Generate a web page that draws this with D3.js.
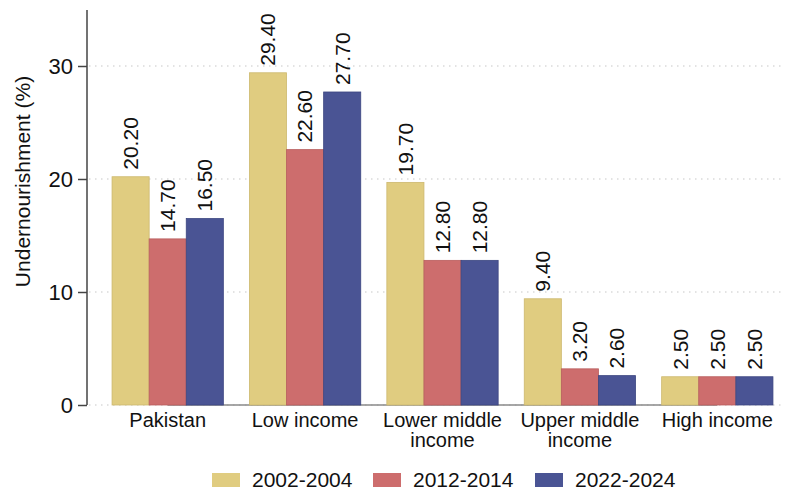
<!DOCTYPE html>
<html>
<head>
<meta charset="utf-8">
<script src="https://cdn.jsdelivr.net/npm/d3@7"></script>
<style>
  html, body { margin: 0; padding: 0; background: #fff; }
  svg { display: block; font-family: "Liberation Sans", Arial, Helvetica, sans-serif; }
</style>
</head>
<body>
<div id="chart"></div>
<script>
// ---- data ----
const categories = ["Pakistan", "Low income", "Lower middle income", "Upper middle income", "High income"];
const categoryLines = [["Pakistan"], ["Low income"], ["Lower middle", "income"], ["Upper middle", "income"], ["High income"]];
const seriesNames = ["2002-2004", "2012-2014", "2022-2024"];
const values2002 = [20.2, 29.4, 19.7, 9.4, 2.5];
const values2012 = [14.7, 22.6, 12.8, 3.2, 2.5];
const values2022 = [16.5, 27.7, 12.8, 2.6, 2.5];
const yTicks = [0, 10, 20, 30];
const colors = ["#E0CC80", "#CD6D6D", "#4A5494"];
const strokeColors = ["#CDB86E", "#B85E5E", "#3C4680"];

const seriesValues = [values2002, values2012, values2022];

const W = 786, H = 492;
const margin = { left: 87, top: 10, bottom: 87 };
const plotBottom = 405;

const svg = d3.select("#chart").append("svg").attr("width", W).attr("height", H);

const y = d3.scaleLinear().domain([0, 35]).range([plotBottom, plotBottom - 35 * 11.3]);
const x0 = d3.scaleBand().domain(categories).range([99, 786]).paddingInner(0.19).paddingOuter(0.095);
const x1 = d3.scaleBand().domain(seriesNames).range([0, x0.bandwidth()]);

// gridlines
const grid = svg.append("g");
grid.selectAll("line").data(yTicks).join("line")
  .attr("x1", margin.left + 2).attr("x2", 783)
  .attr("y1", d => y(d)).attr("y2", d => y(d))
  .attr("stroke", "#c8c8c8").attr("stroke-width", 1.2)
  .attr("stroke-dasharray", "1.5,4.5");

// x baseline (between first and last category centres)
svg.append("line")
  .attr("x1", x0(categories[0]) + x0.bandwidth() / 2)
  .attr("x2", x0(categories[categories.length - 1]) + x0.bandwidth() / 2)
  .attr("y1", plotBottom).attr("y2", plotBottom)
  .attr("stroke", "#8a8a8a").attr("stroke-width", 1.5);

// bars
const flat = [];
categories.forEach((c, i) => {
  seriesNames.forEach((s, j) => flat.push({ cat: c, ser: s, j, v: seriesValues[j][i] }));
});

svg.append("g").selectAll("rect").data(flat).join("rect")
  .attr("x", d => x0(d.cat) + x1(d.ser))
  .attr("y", d => y(d.v))
  .attr("width", x1.bandwidth())
  .attr("height", d => y(0) - y(d.v))
  .attr("fill", d => colors[d.j])
  .attr("stroke", d => strokeColors[d.j])
  .attr("stroke-width", 0.8);

// value labels
svg.append("g").selectAll("text").data(flat).join("text")
  .attr("transform", d => `translate(${x0(d.cat) + x1(d.ser) + x1.bandwidth() / 2},${y(d.v) - 7}) rotate(-90)`)
  .attr("text-anchor", "start")
  .attr("dy", "0.35em")
  .attr("font-size", 21)
  .attr("fill", "#111")
  .text(d => d.v.toFixed(2));

// y axis
const yAxis = d3.axisLeft(y).tickValues(yTicks).tickSize(9).tickPadding(5).tickFormat(d3.format("d"));
const yg = svg.append("g").attr("transform", `translate(${margin.left},0)`).call(yAxis);
yg.select(".domain").attr("d", `M0,${plotBottom}V${margin.top}`).attr("stroke", "#444").attr("stroke-width", 1.5);
yg.selectAll(".tick line").attr("stroke", "#444").attr("stroke-width", 1.5);
yg.selectAll(".tick text").attr("font-size", 22).attr("fill", "#111").attr("font-family", "Liberation Sans, Arial, sans-serif");

// y label
svg.append("text")
  .attr("transform", `translate(23,${(plotBottom + margin.top) / 2 - 26}) rotate(-90)`)
  .attr("text-anchor", "middle")
  .attr("dy", "0.35em")
  .attr("font-size", 21)
  .attr("fill", "#111")
  .text("Undernourishment (%)");

// x category labels
const xl = svg.append("g");
categories.forEach((c, i) => {
  const t = xl.append("text")
    .attr("x", x0(c) + x0.bandwidth() / 2)
    .attr("y", 427)
    .attr("text-anchor", "middle")
    .attr("font-size", 20)
    .attr("fill", "#111");
  categoryLines[i].forEach((line, k) => {
    t.append("tspan").attr("x", x0(c) + x0.bandwidth() / 2).attr("dy", k === 0 ? 0 : 20).text(line);
  });
});

// legend
const legendX = [212, 373, 535];
const lg = svg.append("g");
seriesNames.forEach((s, j) => {
  lg.append("rect").attr("x", legendX[j]).attr("y", 473).attr("width", 28).attr("height", 14)
    .attr("fill", colors[j]);
  lg.append("text").attr("x", legendX[j] + 40).attr("y", 487)
    .attr("font-size", 21).attr("fill", "#111").text(s);
});
</script>
</body>
</html>
